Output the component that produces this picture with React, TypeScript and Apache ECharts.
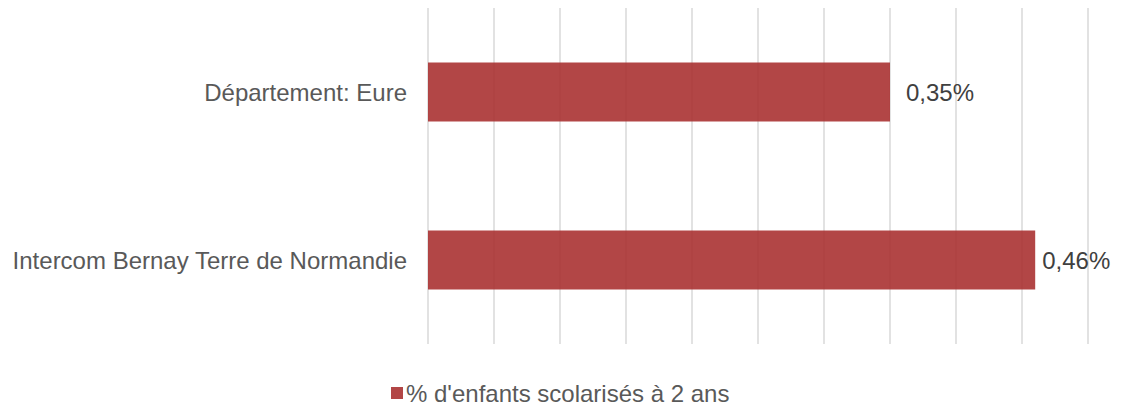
import React, { useEffect, useRef } from "react";
import * as echarts from "echarts";

const categories = ["Intercom Bernay Terre de Normandie", "Département: Eure"];
const values = [0.46, 0.35];
const seriesName = "% d'enfants scolarisés à 2 ans";
const labelDistances = [7, 16];

export default function App() {
  const ref = useRef<HTMLDivElement>(null);
  useEffect(() => {
    const chart = echarts.init(ref.current!, null, { renderer: "svg" });
    chart.setOption({
      animation: false,
      textStyle: { fontFamily: "'Liberation Sans', Arial, sans-serif" },
      grid: { left: 428, right: 37, top: 8, bottom: 62, containLabel: false },
      xAxis: {
        type: "value",
        min: 0,
        max: 0.5,
        interval: 0.05,
        axisLabel: { show: false },
        axisLine: { show: false },
        axisTick: { show: false },
        splitLine: { show: true, lineStyle: { color: "#d9d9d9", width: 1.5 } },
      },
      yAxis: {
        type: "category",
        data: categories,
        axisLine: { show: false },
        axisTick: { show: false },
        axisLabel: { color: "#595959", fontSize: 24, margin: 21, padding: [0, 0, 3, 0] },
      },
      legend: {
        left: 386,
        top: 376,
        itemWidth: 12,
        itemHeight: 12,
        itemGap: 6,
        textStyle: { color: "#595959", fontSize: 24, padding: [0, 0, 0, -2] },
        data: [{ name: seriesName, icon: "rect" }],
      },
      series: [
        {
          type: "bar",
          name: seriesName,
          data: values.map((v, i) => ({ value: v, label: { distance: labelDistances[i] } })),
          barCategoryGap: "65%",
          itemStyle: { color: "rgba(170,50,50,0.9)" },
          label: {
            show: true,
            position: "right",
            color: "#404040",
            fontSize: 24,
            padding: [0, 0, 3, 0],
            formatter: (p: any) => p.value.toFixed(2).replace(".", ",") + "%",
          },
        },
      ],
    });
    return () => chart.dispose();
  }, []);
  return (
    <div
      ref={ref}
      style={{ position: "absolute", left: 0, top: 0, width: 1125, height: 406 }}
    />
  );
}
